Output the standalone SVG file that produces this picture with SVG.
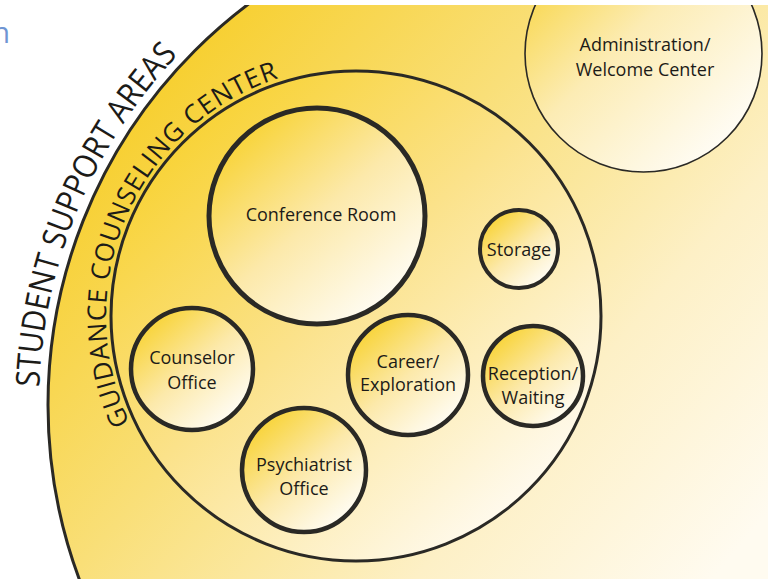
<svg xmlns="http://www.w3.org/2000/svg" width="768" height="579" viewBox="0 0 768 579">
<style>
.ring{stroke:#2a2925;fill-opacity:1}
.lbl{font-family:"Open Sans","Noto Sans","Liberation Sans",sans-serif;font-size:18px;fill:#1c1b18;text-anchor:middle}
.arc{font-family:"Open Sans","Noto Sans","Liberation Sans",sans-serif;fill:#1c1b18}
</style>
<defs>
<clipPath id="clip"><rect x="0" y="5" width="768" height="574"/></clipPath>
<linearGradient id="gOuter" gradientUnits="userSpaceOnUse" x1="150" y1="80" x2="720" y2="570">
<stop offset="0" stop-color="#f7cf2e"/>
<stop offset="0.35" stop-color="#f9df78"/>
<stop offset="0.7" stop-color="#fdf0c6"/>
<stop offset="1" stop-color="#fffbf0"/>
</linearGradient>
<linearGradient id="gGuid" x1="0.12" y1="0.12" x2="0.85" y2="0.9">
<stop offset="0" stop-color="#f8d232"/>
<stop offset="0.45" stop-color="#fbe28a"/>
<stop offset="1" stop-color="#fffbf2"/>
</linearGradient>
<linearGradient id="gNode" x1="0.15" y1="0.1" x2="0.85" y2="0.9">
<stop offset="0" stop-color="#f8d335"/>
<stop offset="0.5" stop-color="#fce9aa"/>
<stop offset="1" stop-color="#fffdf6"/>
</linearGradient>
<linearGradient id="gAdmin" x1="0.05" y1="0.1" x2="0.85" y2="0.9">
<stop offset="0" stop-color="#f8d43e"/>
<stop offset="0.45" stop-color="#fcecb4"/>
<stop offset="1" stop-color="#fffdf7"/>
</linearGradient>
<path id="pOuter" d="M39.31,387.2 A510,510 0 0 1 294,-36.7"/>
<path id="pGuid" d="M139.5,441 A250,250 0 0 1 312.6,69.8"/>
</defs>
<text x="10" y="43" font-family="Open Sans, Noto Sans, sans-serif" font-size="29" fill="#6f95d3" text-anchor="end">n</text>
<g clip-path="url(#clip)">
<g id="student-support-areas">
<circle cx="549" cy="405" r="501" fill="url(#gOuter)" class="ring" stroke-width="3"/>
<text class="arc" font-size="33"><textPath href="#pOuter" startOffset="0" textLength="368" lengthAdjust="spacingAndGlyphs">STUDENT SUPPORT AREAS</textPath></text>
</g>
<g id="administration">
<circle cx="643.5" cy="53.5" r="118.5" fill="url(#gAdmin)" class="ring" stroke-width="1.6"/>
<text class="lbl" x="645" y="51">Administration/</text>
<text class="lbl" x="645" y="76">Welcome Center</text>
</g>
<g id="guidance-counseling-center">
<circle cx="356" cy="316" r="245" fill="url(#gGuid)" class="ring" stroke-width="3"/>
<text class="arc" font-size="26"><textPath href="#pGuid" startOffset="20.5" textLength="424" lengthAdjust="spacing">GUIDANCE COUNSELING CENTER</textPath></text>
</g>
<g id="conference-room">
<circle cx="317" cy="216" r="108" fill="url(#gNode)" class="ring" stroke-width="5"/>
<text class="lbl" x="321" y="221">Conference Room</text>
</g>
<g id="storage">
<circle cx="519" cy="249" r="39" fill="url(#gNode)" class="ring" stroke-width="4"/>
<text class="lbl" x="519" y="256">Storage</text>
</g>
<g id="counselor-office">
<circle cx="192" cy="369" r="61" fill="url(#gNode)" class="ring" stroke-width="4.5"/>
<text class="lbl" x="192" y="364">Counselor</text>
<text class="lbl" x="192" y="389">Office</text>
</g>
<g id="career-exploration">
<circle cx="408" cy="375" r="60" fill="url(#gNode)" class="ring" stroke-width="4.5"/>
<text class="lbl" x="408" y="368">Career/</text>
<text class="lbl" x="408" y="391">Exploration</text>
</g>
<g id="reception-waiting">
<circle cx="533" cy="376" r="50" fill="url(#gNode)" class="ring" stroke-width="4.5"/>
<text class="lbl" x="533" y="380">Reception/</text>
<text class="lbl" x="533" y="404">Waiting</text>
</g>
<g id="psychiatrist-office">
<circle cx="304" cy="470" r="62" fill="url(#gNode)" class="ring" stroke-width="4.5"/>
<text class="lbl" x="304" y="471">Psychiatrist</text>
<text class="lbl" x="304" y="495">Office</text>
</g>
<g id="connectors"/>
</g>
</svg>
